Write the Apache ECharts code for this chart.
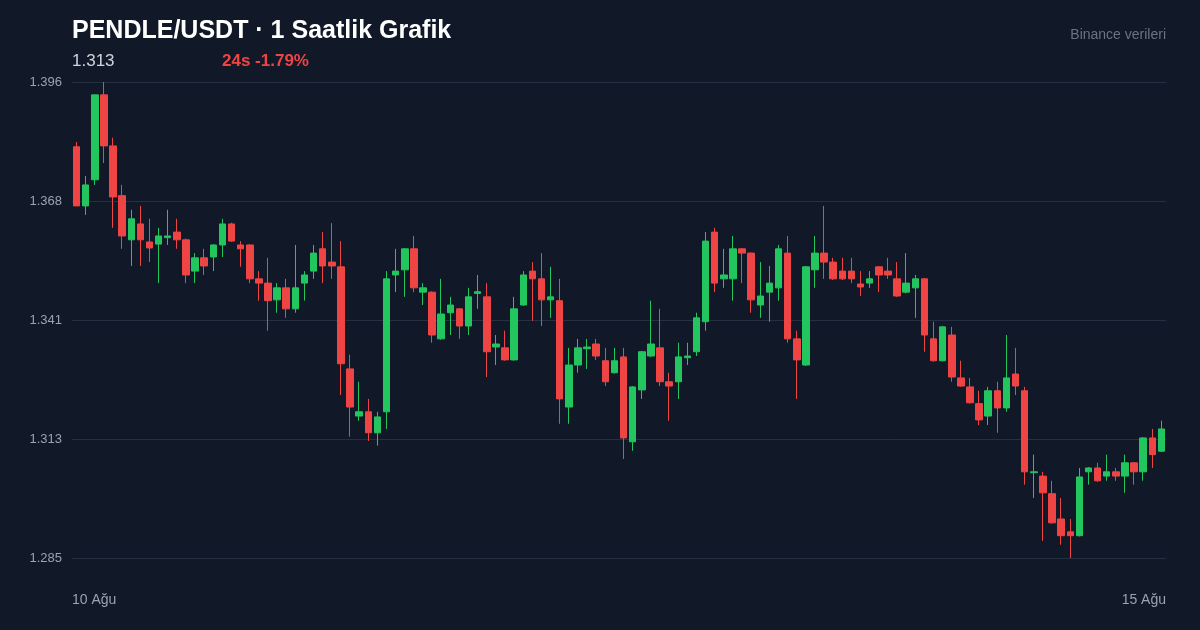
<!DOCTYPE html>
<html>
<head>
<meta charset="utf-8">
<script src="https://cdn.jsdelivr.net/npm/echarts@6/dist/echarts.min.js"></script>
<style>
  html, body { margin: 0; padding: 0; background: #111827; }
  #main { width: 1200px; height: 630px; }
</style>
</head>
<body>
<div id="main"></div>
<script>
// ********
// * Data *
// ********

// Hourly candles, 10 Ağu -> 15 Ağu
const opens = [
  1.3809, 1.3671, 1.3732, 1.3930, 1.3811, 1.3695, 1.3592, 1.3629, 1.3587, 1.3582,
  1.3597, 1.3610, 1.3592, 1.3519, 1.3550, 1.3552, 1.3580, 1.3629, 1.3580, 1.3580,
  1.3501, 1.3491, 1.3452, 1.3480, 1.3431, 1.3491, 1.3519, 1.3571, 1.3540, 1.3529,
  1.3291, 1.3181, 1.3191, 1.3142, 1.3191, 1.3510, 1.3522, 1.3571, 1.3470, 1.3470,
  1.3361, 1.3422, 1.3431, 1.3391, 1.3467, 1.3459, 1.3342, 1.3340, 1.3312, 1.3440,
  1.3519, 1.3501, 1.3452, 1.3450, 1.3202, 1.3300, 1.3338, 1.3349, 1.3310, 1.3282,
  1.3319, 1.3121, 1.3242, 1.3321, 1.3340, 1.3261, 1.3261, 1.3317, 1.3331, 1.3401,
  1.3610, 1.3501, 1.3501, 1.3571, 1.3561, 1.3440, 1.3470, 1.3480, 1.3561, 1.3361,
  1.3300, 1.3522, 1.3561, 1.3540, 1.3519, 1.3519, 1.3489, 1.3491, 1.3529, 1.3519,
  1.3501, 1.3470, 1.3480, 1.3501, 1.3361, 1.3310, 1.3370, 1.3270, 1.3249, 1.3210,
  1.3181, 1.3240, 1.3200, 1.3279, 1.3240, 1.3049, 1.3041, 1.3000, 1.2941, 1.2911,
  1.2902, 1.3051, 1.3060, 1.3041, 1.3051, 1.3041, 1.3072, 1.3051, 1.3130, 1.3099
];
const closes = [
  1.3671, 1.3720, 1.3930, 1.3811, 1.3692, 1.3601, 1.3641, 1.3592, 1.3573, 1.3601,
  1.3601, 1.3592, 1.3510, 1.3550, 1.3531, 1.3580, 1.3629, 1.3589, 1.3571, 1.3501,
  1.3491, 1.3450, 1.3480, 1.3431, 1.3480, 1.3510, 1.3561, 1.3531, 1.3531, 1.3303,
  1.3202, 1.3191, 1.3142, 1.3179, 1.3501, 1.3519, 1.3571, 1.3480, 1.3480, 1.3370,
  1.3419, 1.3440, 1.3391, 1.3459, 1.3471, 1.3331, 1.3349, 1.3312, 1.3431, 1.3510,
  1.3501, 1.3452, 1.3459, 1.3221, 1.3300, 1.3340, 1.3342, 1.3321, 1.3261, 1.3310,
  1.3130, 1.3249, 1.3331, 1.3349, 1.3261, 1.3251, 1.3319, 1.3321, 1.3410, 1.3589,
  1.3491, 1.3510, 1.3571, 1.3561, 1.3452, 1.3461, 1.3491, 1.3571, 1.3361, 1.3312,
  1.3529, 1.3561, 1.3540, 1.3501, 1.3501, 1.3501, 1.3482, 1.3501, 1.3510, 1.3510,
  1.3461, 1.3491, 1.3501, 1.3370, 1.3310, 1.3389, 1.3272, 1.3251, 1.3212, 1.3172,
  1.3240, 1.3200, 1.3270, 1.3251, 1.3051, 1.3051, 1.3002, 1.2932, 1.2902, 1.2902,
  1.3039, 1.3060, 1.3030, 1.3051, 1.3041, 1.3072, 1.3051, 1.3130, 1.3091, 1.3151
];
const lows = [
  1.3671, 1.3650, 1.3720, 1.3771, 1.3620, 1.3571, 1.3531, 1.3531, 1.3540, 1.3491,
  1.3580, 1.3571, 1.3491, 1.3491, 1.3510, 1.3519, 1.3552, 1.3587, 1.3529, 1.3491,
  1.3450, 1.3380, 1.3422, 1.3410, 1.3422, 1.3450, 1.3501, 1.3491, 1.3501, 1.3230,
  1.3133, 1.3170, 1.3123, 1.3112, 1.3151, 1.3470, 1.3459, 1.3470, 1.3440, 1.3352,
  1.3359, 1.3370, 1.3361, 1.3370, 1.3431, 1.3272, 1.3300, 1.3310, 1.3310, 1.3438,
  1.3403, 1.3391, 1.3410, 1.3163, 1.3163, 1.3282, 1.3291, 1.3312, 1.3251, 1.3280,
  1.3081, 1.3100, 1.3221, 1.3319, 1.3251, 1.3170, 1.3221, 1.3300, 1.3321, 1.3380,
  1.3470, 1.3480, 1.3450, 1.3491, 1.3422, 1.3410, 1.3401, 1.3450, 1.3352, 1.3221,
  1.3298, 1.3480, 1.3501, 1.3498, 1.3498, 1.3491, 1.3461, 1.3480, 1.3470, 1.3501,
  1.3459, 1.3467, 1.3410, 1.3331, 1.3308, 1.3308, 1.3261, 1.3249, 1.3210, 1.3160,
  1.3160, 1.3142, 1.3191, 1.3230, 1.3021, 1.2990, 1.2890, 1.2930, 1.2881, 1.2850,
  1.2900, 1.3021, 1.3028, 1.3030, 1.3030, 1.3002, 1.3021, 1.3030, 1.3060, 1.3097
];
const highs = [
  1.3820, 1.3741, 1.3930, 1.3960, 1.3830, 1.3720, 1.3662, 1.3671, 1.3641, 1.3620,
  1.3662, 1.3641, 1.3595, 1.3561, 1.3571, 1.3582, 1.3641, 1.3632, 1.3589, 1.3582,
  1.3519, 1.3550, 1.3491, 1.3501, 1.3580, 1.3519, 1.3580, 1.3610, 1.3631, 1.3589,
  1.3324, 1.3261, 1.3221, 1.3191, 1.3519, 1.3571, 1.3573, 1.3601, 1.3491, 1.3472,
  1.3501, 1.3459, 1.3433, 1.3480, 1.3510, 1.3491, 1.3370, 1.3380, 1.3459, 1.3519,
  1.3540, 1.3561, 1.3529, 1.3501, 1.3340, 1.3361, 1.3361, 1.3361, 1.3340, 1.3340,
  1.3340, 1.3251, 1.3333, 1.3450, 1.3431, 1.3282, 1.3352, 1.3352, 1.3422, 1.3610,
  1.3620, 1.3571, 1.3601, 1.3573, 1.3563, 1.3540, 1.3531, 1.3580, 1.3601, 1.3380,
  1.3531, 1.3601, 1.3671, 1.3550, 1.3550, 1.3550, 1.3519, 1.3519, 1.3531, 1.3550,
  1.3540, 1.3561, 1.3510, 1.3503, 1.3401, 1.3391, 1.3389, 1.3310, 1.3270, 1.3240,
  1.3249, 1.3261, 1.3370, 1.3340, 1.3249, 1.3091, 1.3051, 1.3030, 1.2990, 1.2941,
  1.3060, 1.3062, 1.3072, 1.3091, 1.3060, 1.3091, 1.3074, 1.3132, 1.3151, 1.3170
];
const yTicks = ["1.285", "1.313", "1.341", "1.368", "1.396"];
const dateLabels = ["10 Ağu", "15 Ağu"];

// Global variables
const globals = {
  upColor: "#22c55e",
  downColor: "#ef4444",
  gridColor: "#253042",
  font: "'Liberation Sans', Arial, sans-serif",
  yMin: 1.285,
  yMax: 1.396,
};

const chart = echarts.init(document.getElementById("main"));

function buildOption() {
  const hours = opens.map((_, i) => i);
  const candles = opens.map((o, i) => [o, closes[i], lows[i], highs[i]]);
  const step = (globals.yMax - globals.yMin) / (yTicks.length - 1);
  const f = globals.font;

  return {
    backgroundColor: "#111827",
    animation: false,
    textStyle: { fontFamily: f },
    title: [
      {
        text: "PENDLE/USDT · 1 Saatlik Grafik",
        left: 72, top: 19, padding: 0,
        textStyle: { color: "#ffffff", fontSize: 25, fontWeight: "bold", fontFamily: f },
      },
      {
        text: "Binance verileri",
        right: 34, top: 28, padding: 0,
        textStyle: { color: "#6b7280", fontSize: 14, fontWeight: "normal", fontFamily: f },
      },
    ],
    graphic: [
      { type: "text", left: 72, top: 53, style: { text: "1.313", fill: "#d1d5db", font: "17px " + f } },
      { type: "text", left: 222, top: 53, style: { text: "24s -1.79%", fill: "#ef4444", font: "bold 17px " + f } },
      { type: "text", left: 72, top: 593, style: { text: dateLabels[0], fill: "#9ca3af", font: "14px " + f } },
      { type: "text", right: 34, top: 593, style: { text: dateLabels[1], fill: "#9ca3af", font: "14px " + f } },
    ],
    grid: { left: 72, right: 34, top: 82, bottom: 72 },
    xAxis: {
      type: "category",
      data: hours,
      boundaryGap: true,
      axisLine: { show: false },
      axisTick: { show: false },
      axisLabel: { show: false },
      splitLine: { show: false },
    },
    yAxis: {
      type: "value",
      min: globals.yMin,
      max: globals.yMax,
      interval: step,
      axisLine: { show: false },
      axisTick: { show: false },
      splitLine: { lineStyle: { color: globals.gridColor, width: 1 } },
      axisLabel: {
        color: "#9ca3af",
        fontSize: 13,
        fontFamily: f,
        margin: 10,
        formatter: (v) => yTicks[Math.round((v - globals.yMin) / step)] || "",
      },
    },
    series: [
      {
        type: "candlestick",
        data: candles,
        barWidth: 7,
        itemStyle: {
          color: globals.upColor,
          color0: globals.downColor,
          borderColor: globals.upColor,
          borderColor0: globals.downColor,
          borderWidth: 1,
        },
      },
    ],
  };
}

chart.setOption(buildOption());
</script>
</body>
</html>
